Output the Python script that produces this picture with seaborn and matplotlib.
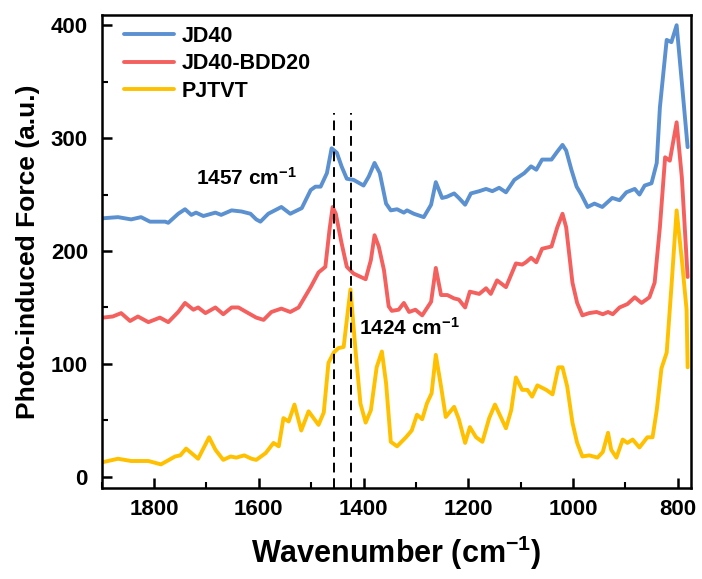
import numpy as np
import pandas as pd
import seaborn as sns
import matplotlib
matplotlib.use("Agg")
import matplotlib.pyplot as plt
from matplotlib.ticker import MultipleLocator

# AFM-IR photo-induced force spectra
jd40_wn = [1898, 1869, 1844, 1825, 1808, 1779, 1773, 1754, 1741, 1729, 1720, 1706,
           1683, 1672, 1652, 1633, 1616, 1605, 1597, 1582, 1557, 1540, 1518, 1501,
           1492, 1482, 1470, 1461, 1451, 1442, 1432, 1419, 1400, 1390, 1379, 1369,
           1357, 1348, 1336, 1323, 1317, 1304, 1285, 1271, 1262, 1250, 1241, 1227,
           1218, 1206, 1195, 1179, 1166, 1154, 1141, 1128, 1112, 1093, 1080, 1070,
           1059, 1041, 1030, 1020, 1013, 1003, 993, 984, 972, 959, 944, 925, 911,
           898, 882, 873, 863, 850, 840, 834, 821, 812, 802, 792, 781]
jd40_force = [229, 230, 228, 230, 226, 226, 225, 233, 237, 232, 234, 231,
              234, 232, 236, 235, 233, 228, 226, 233, 239, 233, 238, 254,
              257, 257, 269, 291, 287, 275, 264, 263, 258, 266, 278, 269,
              242, 236, 237, 234, 236, 233, 230, 241, 261, 247, 248, 251,
              247, 241, 251, 253, 255, 253, 256, 252, 263, 269, 275, 272,
              281, 281, 288, 294, 289, 272, 257, 250, 239, 242, 239, 247, 245,
              252, 255, 250, 258, 260, 278, 327, 387, 385, 400, 349, 292]

bdd_wn = [1898, 1879, 1863, 1846, 1831, 1811, 1789, 1773, 1754, 1741, 1725, 1716,
          1702, 1683, 1668, 1652, 1639, 1624, 1605, 1591, 1576, 1557, 1540, 1524,
          1501, 1486, 1473, 1465, 1459, 1453, 1442, 1432, 1419, 1396, 1386, 1379,
          1371, 1361, 1352, 1346, 1333, 1323, 1313, 1301, 1288, 1271, 1262, 1252,
          1240, 1227, 1218, 1206, 1197, 1179, 1166, 1157, 1145, 1128, 1109, 1097,
          1090, 1080, 1070, 1059, 1041, 1030, 1020, 1013, 1001, 992, 982, 969,
          955, 943, 933, 924, 911, 896, 882, 869, 854, 844, 834, 824, 815, 802,
          792, 781]
bdd_force = [141, 142, 145, 138, 142, 137, 141, 137, 146, 154, 148, 150,
             145, 150, 144, 150, 150, 146, 141, 139, 146, 149, 146, 150,
             168, 181, 186, 219, 239, 233, 207, 186, 180, 175, 192, 214,
             204, 183, 151, 147, 148, 154, 146, 148, 143, 155, 185, 161,
             161, 158, 157, 150, 164, 162, 167, 162, 174, 168, 189, 188,
             190, 194, 190, 202, 204, 221, 233, 221, 172, 154, 143, 145,
             146, 144, 146, 144, 150, 153, 159, 154, 159, 172, 221, 283, 280, 314,
             265, 177]

pjtvt_wn = [1898, 1869, 1844, 1811, 1787, 1760, 1750, 1739, 1716, 1695, 1683, 1668,
            1654, 1643, 1628, 1614, 1605, 1587, 1572, 1562, 1553, 1543, 1532, 1519,
            1505, 1486, 1476, 1467, 1457, 1448, 1438, 1432, 1425, 1415, 1406, 1396,
            1386, 1375, 1365, 1357, 1348, 1336, 1319, 1308, 1298, 1288, 1279, 1270,
            1262, 1252, 1243, 1227, 1218, 1206, 1197, 1185, 1173, 1160, 1149, 1137,
            1128, 1118, 1109, 1097, 1087, 1078, 1068, 1051, 1039, 1028, 1020, 1011,
            1001, 992, 982, 969, 953, 943, 933, 927, 917, 905, 896, 886, 873, 858,
            848, 840, 831, 821, 812, 802, 792, 783, 781]
pjtvt_force = [13, 16, 14, 14, 11, 18, 19, 25, 16, 35, 24, 15,
               18, 17, 19, 16, 15, 21, 30, 27, 52, 49, 64, 41,
               58, 46, 57, 101, 110, 114, 115, 139, 166, 110, 65, 48,
               59, 97, 111, 83, 31, 27, 35, 41, 55, 51, 65, 74,
               108, 80, 53, 62, 51, 30, 44, 35, 31, 52, 64, 52,
               43, 59, 88, 77, 77, 71, 81, 77, 73, 97, 97, 80,
               48, 30, 18, 19, 17, 22, 39, 24, 17, 33, 30, 33, 26, 35,
               35, 59, 96, 110, 168, 236, 192, 148, 97]

series_names = ["JD40", "JD40-BDD20", "PJTVT"]
series_colors = ["#5B91D0", "#F4605E", "#FFC000"]
marked_peaks = [1457, 1424]

frames = [
    pd.DataFrame({"wn": jd40_wn, "force": jd40_force, "sample": series_names[0]}),
    pd.DataFrame({"wn": bdd_wn, "force": bdd_force, "sample": series_names[1]}),
    pd.DataFrame({"wn": pjtvt_wn, "force": pjtvt_force, "sample": series_names[2]}),
]
df = pd.concat(frames, ignore_index=True)

sns.set_style("ticks")
plt.rcParams["font.family"] = ["Liberation Sans", "DejaVu Sans"]
plt.rcParams["font.weight"] = "bold"
plt.rcParams["text.color"] = "black"
plt.rcParams["axes.labelcolor"] = "black"
plt.rcParams["mathtext.fontset"] = "custom"
plt.rcParams["mathtext.rm"] = "Liberation Sans:bold"
plt.rcParams["mathtext.bf"] = "Liberation Sans:bold"
plt.rcParams["mathtext.default"] = "bf"
plt.rcParams["lines.solid_joinstyle"] = "round"
plt.rcParams["lines.solid_capstyle"] = "round"

fig, ax = plt.subplots(figsize=(7.02, 5.79), dpi=100)
fig.subplots_adjust(left=0.145, right=0.984, top=0.974, bottom=0.157)

sns.lineplot(data=df, x="wn", y="force", hue="sample", hue_order=series_names,
             palette=series_colors, linewidth=2.8, ax=ax, sort=True,
             estimator=None)

for wn in marked_peaks:
    ax.plot([wn, wn], [-10, 322], color="black", linestyle=(0, (5, 3)),
            linewidth=1.4, zorder=3)

ax.text(1721, 265, r"1457 cm$^{-1}$", fontsize=15, fontweight="bold",
        color="black", ha="left", va="center")
ax.text(1409, 132, r"1424 cm$^{-1}$", fontsize=15, fontweight="bold",
        color="black", ha="left", va="center")

ax.set_xlim(1900, 775)
ax.set_ylim(-10, 409)
ax.xaxis.set_major_locator(MultipleLocator(200))
ax.xaxis.set_minor_locator(MultipleLocator(100))
ax.yaxis.set_major_locator(MultipleLocator(100))
ax.yaxis.set_minor_locator(MultipleLocator(50))
ax.tick_params(axis="both", which="major", direction="in", length=7, width=1.8,
               labelsize=16, color="black", labelcolor="black")
ax.tick_params(axis="x", which="major", pad=8)
ax.tick_params(axis="y", which="major", pad=10)
ax.tick_params(axis="both", which="minor", direction="in", length=4, width=1.5,
               color="black")
for lab in ax.get_xticklabels() + ax.get_yticklabels():
    lab.set_fontweight("bold")

ax.set_xlabel(r"Wavenumber (cm$^{-1}$)", fontsize=22, fontweight="bold",
              labelpad=10, color="black")
ax.set_ylabel("Photo-induced Force (a.u.)", fontsize=19, fontweight="bold",
              labelpad=8, color="black")

for sp in ax.spines.values():
    sp.set_linewidth(1.8)
    sp.set_color("black")
    sp.set_visible(True)

leg = ax.legend(loc="upper left", frameon=False, fontsize=15.5, handlelength=2.3,
                borderaxespad=0.1, labelspacing=0.3, handletextpad=0.35,
                bbox_to_anchor=(0.02, 1.0))
for t in leg.get_texts():
    t.set_fontweight("bold")
    t.set_color("black")
for h in leg.legend_handles:
    h.set_linewidth(2.8)

fig.savefig("out.png", dpi=100)
